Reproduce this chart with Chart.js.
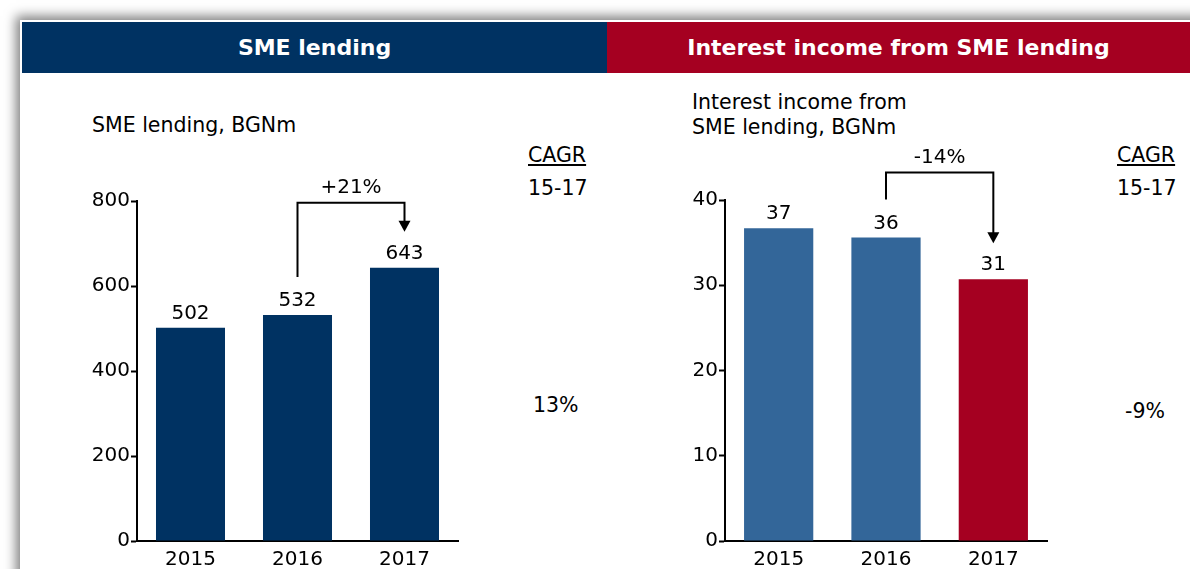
<!DOCTYPE html>
<html>
<head>
<meta charset="utf-8">
<script src="https://cdn.jsdelivr.net/npm/chart.js@4/dist/chart.umd.min.js"></script>
<style>
  html, body { margin: 0; padding: 0; background: #fff; overflow: hidden; }
  body { width: 1190px; height: 569px; position: relative; font-family: "DejaVu Sans", Verdana, sans-serif; color: #000; }
  .slide { position: absolute; left: 20px; top: 20px; width: 1200px; height: 600px; background: #fff;
           box-shadow: 0 0 11px 4px rgba(0,0,0,0.5); }
  .head { position: absolute; top: 22px; height: 51px; color: #fff; font-weight: bold; font-size: 22px;
          display: flex; align-items: center; justify-content: center; }
  .txt { position: absolute; font-size: 20.5px; line-height: 25px; white-space: nowrap; }
  canvas { position: absolute; }
</style>
</head>
<body>
<div class="slide"></div>
<div class="head" style="left:22px;width:585px;background:#003262;">SME lending</div>
<div class="head" style="left:607px;width:583px;background:#A50021;">Interest income from SME lending</div>

<div class="txt" style="left:92px;top:113px;">SME lending, BGNm</div>
<div class="txt" style="left:692px;top:90px;">Interest income from<br>SME lending, BGNm</div>

<div class="txt" style="left:528px;top:143px;text-decoration:underline;">CAGR</div>
<div class="txt" style="left:528px;top:176px;">15-17</div>
<div class="txt" id="cagrLeft" style="left:533px;top:393px;"></div>

<div class="txt" style="left:1117px;top:143px;text-decoration:underline;">CAGR</div>
<div class="txt" style="left:1117px;top:176px;">15-17</div>
<div class="txt" id="cagrRight" style="left:1125px;top:399px;"></div>

<canvas id="smeChart" width="585" height="496" style="left:22px;top:73px;"></canvas>
<canvas id="incomeChart" width="583" height="496" style="left:607px;top:73px;"></canvas>

<script>
const years = ['2015', '2016', '2017'];

// SME lending, BGNm
const smeLending = [502, 532, 643];
const smeTicks = [0, 200, 400, 600, 800];
const smeGrowth = '+21%';
const smeCagr = '13%';

// Interest income from SME lending, BGNm
const interestIncome = [36.7, 35.6, 30.7];
const incomeTicks = [0, 10, 20, 30, 40];
const incomeGrowth = '-14%';
const incomeCagr = '-9%';

const darkBlue = '#003262';
const steelBlue = '#336699';
const red = '#A50021';

const FONT = '"DejaVu Sans", Verdana, sans-serif';

document.getElementById('cagrLeft').textContent = smeCagr;
document.getElementById('cagrRight').textContent = incomeCagr;

// value labels over the bars + growth bracket with arrow
const barNotes = {
    id: 'barNotes',
    afterDatasetsDraw(chart, args, opts) {
        const ctx = chart.ctx;
        const bars = chart.getDatasetMeta(0).data;
        const values = chart.data.datasets[0].data;
        ctx.save();
        ctx.fillStyle = '#000';
        ctx.strokeStyle = '#000';
        ctx.font = '20px ' + FONT;
        ctx.textAlign = 'center';
        ctx.textBaseline = 'alphabetic';
        bars.forEach((bar, i) => {
            ctx.fillText(Math.round(values[i]).toString(), bar.x, bar.y - 9);
        });

        const from = bars[opts.from];
        const to = bars[opts.to];
        const top = Math.min(from.y, to.y) - 65;
        const tipY = to.y - 36;

        ctx.lineWidth = 2;
        ctx.beginPath();
        ctx.moveTo(from.x, from.y - 38);
        ctx.lineTo(from.x, top);
        ctx.lineTo(to.x, top);
        ctx.lineTo(to.x, tipY - 10);
        ctx.stroke();

        ctx.beginPath();
        ctx.moveTo(to.x - 6, tipY - 11);
        ctx.lineTo(to.x + 6, tipY - 11);
        ctx.lineTo(to.x, tipY);
        ctx.closePath();
        ctx.fill();

        ctx.fillText(opts.text, (from.x + to.x) / 2, top - 10);
        ctx.restore();
    }
};

function makeChart(id, values, ticks, colors, growth, padding) {
    const ctx = document.getElementById(id).getContext('2d');
    return new Chart(ctx, {
        type: 'bar',
        data: {
            labels: years,
            datasets: [{
                data: values,
                backgroundColor: colors,
                barPercentage: 0.645,
                categoryPercentage: 1
            }]
        },
        options: {
            responsive: false,
            animation: false,
            devicePixelRatio: 1,
            layout: { padding: padding },
            plugins: {
                legend: { display: false },
                tooltip: { enabled: false },
                barNotes: { from: 1, to: 2, text: growth }
            },
            scales: {
                x: {
                    afterFit: s => { s.height = 28; },
                    grid: { display: false, drawTicks: false },
                    border: { color: '#000', width: 2 },
                    ticks: { color: '#000', font: { family: FONT, size: 20 }, padding: 7 }
                },
                y: {
                    min: ticks[0],
                    max: ticks[ticks.length - 1],
                    afterFit: s => { s.width = 60; },
                    afterBuildTicks: s => { s.ticks = ticks.map(v => ({ value: v })); },
                    grid: { drawOnChartArea: false, drawTicks: true, tickLength: 6, tickColor: '#000', tickWidth: 2 },
                    border: { color: '#000', width: 2 },
                    ticks: { color: '#000', font: { family: FONT, size: 20 }, padding: 1 }
                }
            }
        },
        plugins: [barNotes]
    });
}

makeChart('smeChart', smeLending, smeTicks, [darkBlue, darkBlue, darkBlue], smeGrowth,
    { left: 55, right: 149, top: 128, bottom: 0 });
makeChart('incomeChart', interestIncome, incomeTicks, [steelBlue, steelBlue, red], incomeGrowth,
    { left: 58, right: 143, top: 127, bottom: 0 });
</script>
</body>
</html>
